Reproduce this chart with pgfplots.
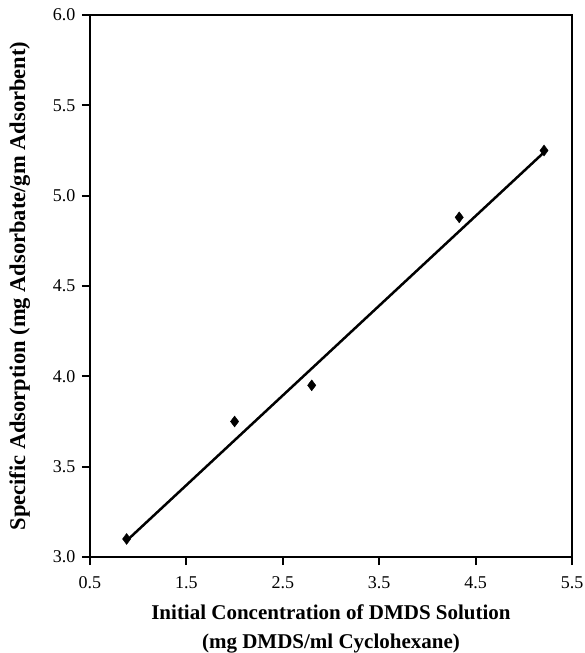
\documentclass[border=0pt]{standalone}
\usepackage{pgfplots}
\pgfplotsset{compat=1.18}
\usepackage{fontspec}
\setmainfont{Liberation Serif}

\begin{document}
\begin{tikzpicture}[x=1pt,y=1pt]
\path[use as bounding box] (-90,-96) rectangle (494,557);
\begin{axis}[
    at={(0,0)}, anchor=south west,
    scale only axis,
    width=482pt, height=542pt,
    xmin=0.5, xmax=5.5,
    ymin=3.0, ymax=6.0,
    xtick={0.5,1.5,...,5.5},
    ytick={3.0,3.5,...,6.0},
    /pgf/number format/fixed,
    /pgf/number format/fixed zerofill,
    /pgf/number format/precision=1,
    /pgf/number format/assume math mode=true,
    tick label style={font=\fontsize{18}{20}\selectfont},
    xticklabel style={yshift=-8pt},
    yticklabel style={xshift=-3pt},
    tick align=outside,
    major tick length=8pt,
    xtick pos=bottom, ytick pos=left,
    axis line style={line width=2pt},
    major tick style={line width=2pt, black},
    xlabel={\textbf{Initial Concentration of DMDS Solution}\\\textbf{(mg DMDS/ml Cyclohexane)}},
    xlabel style={font=\fontsize{21}{29}\selectfont, align=center, yshift=-9pt},
    ylabel={\textbf{Specific Adsorption (mg Adsorbate/gm Adsorbent)}},
    ylabel style={font=\fontsize{22.5}{24}\selectfont, yshift=16pt},
    clip=false,
]
\addplot[line width=2.5pt, black] coordinates {(0.88,3.09) (5.21,5.24)};
\addplot[only marks, mark=diamond*, mark size=5.5pt, black] coordinates {
    (0.88,3.10) (2.0,3.75) (2.8,3.95) (4.33,4.88) (5.21,5.25)
};
\end{axis}
\end{tikzpicture}
\end{document}
